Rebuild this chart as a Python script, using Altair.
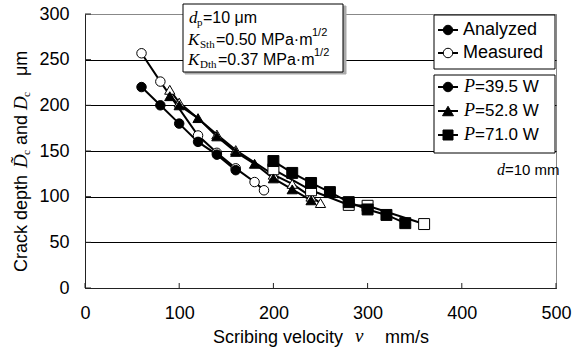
import altair as alt
import pandas as pd

# ---------------- data ----------------
v_a395 = [60, 80, 100, 120, 140, 160]
d_a395 = [220, 200, 180, 160, 146, 129]
v_m395 = [60, 80, 120, 140, 160, 180, 190]
d_m395 = [257, 226, 167, 148, 131, 116, 107]

v_a528 = [90, 100, 120, 140, 160, 180, 200, 220, 240]
d_a528 = [210, 200, 186, 166, 149, 136, 120, 108, 96]
v_m528 = [90, 100, 140, 160, 200, 220, 240, 250]
d_m528 = [217, 203, 168, 151, 124, 114, 100, 93]

v_a710 = [200, 220, 240, 260, 280, 300, 320, 340]
d_a710 = [139, 126, 115, 105, 94, 86, 80, 71]
v_m710 = [200, 240, 280, 300, 360]
d_m710 = [130, 107, 91, 90, 70]

x_ticks = [0, 100, 200, 300, 400, 500]
y_ticks = [0, 50, 100, 150, 200, 250, 300]

powers = ["P=39.5 W", "P=52.8 W", "P=71.0 W"]
power_nums = ["=39.5 W", "=52.8 W", "=71.0 W"]
kinds = ["Analyzed", "Measured"]
shapes = ["circle", "triangle-up", "square"]

SANS = "Liberation Sans, Arial, sans-serif"
SERIF = "Liberation Serif, Times New Roman, serif"

rows = []
for p, k, vs, ds in [
    (powers[0], "Analyzed", v_a395, d_a395),
    (powers[0], "Measured", v_m395, d_m395),
    (powers[1], "Analyzed", v_a528, d_a528),
    (powers[1], "Measured", v_m528, d_m528),
    (powers[2], "Analyzed", v_a710, d_a710),
    (powers[2], "Measured", v_m710, d_m710),
]:
    for v, d in zip(vs, ds):
        rows.append({"v": v, "D": d, "power": p, "kind": k, "grp": p + k})
df = pd.DataFrame(rows)
one = pd.DataFrame({"a": [0]})

xs = alt.Scale(domain=[0, 500], nice=False)
ys = alt.Scale(domain=[0, 300], nice=False)

xax = alt.Axis(values=x_ticks, grid=False, ticks=False, labelFontSize=18, labelFont=SANS,
               labelColor="black", labelPadding=16, domainColor="#222", labelFlush=False, title=None)
yax = alt.Axis(values=y_ticks, grid=True,
               gridColor={"condition": {"test": "datum.value == 300", "value": "#888888"}, "value": "black"},
               gridWidth=1, ticks=False, labelFontSize=18, labelFont=SANS, labelColor="black",
               labelPadding=16, domainColor="#222", title=None)

base = alt.Chart(df)

lines_m = base.transform_filter(alt.datum.kind == "Measured").mark_line(color="black", strokeWidth=2).encode(
    x=alt.X("v:Q", scale=xs, axis=xax), y=alt.Y("D:Q", scale=ys, axis=yax), detail="grp:N", order="v:Q")
lines_a = base.transform_filter(alt.datum.kind == "Analyzed").mark_line(color="black", strokeWidth=2).encode(
    x="v:Q", y="D:Q", detail="grp:N", order="v:Q")

def pts(kind):
    return base.transform_filter(alt.datum.kind == kind).mark_point(
        filled=True, stroke="black", strokeWidth=1, opacity=1).encode(
        x="v:Q", y="D:Q",
        shape=alt.Shape("power:N", scale=alt.Scale(domain=powers, range=shapes), legend=None),
        fill=alt.Fill("kind:N", scale=alt.Scale(domain=kinds, range=["black", "white"]), legend=None),
        size=alt.Size("power:N", scale=alt.Scale(domain=powers, range=[90, 120, 100]), legend=None),
    )

pts_m = pts("Measured")
pts_a = pts("Analyzed")

# inside tick marks
xt = alt.Chart(pd.DataFrame({"t": x_ticks})).mark_rule(color="#222").encode(
    x="t:Q", y=alt.value(274), y2=alt.value(269))
yt = alt.Chart(pd.DataFrame({"t": y_ticks})).mark_rule(color="#222").encode(
    y="t:Q", x=alt.value(0), x2=alt.value(6))


def txt(s, x, y, size=18, font=SANS, style="normal", align="left", baseline="middle", angle=0):
    return alt.Chart(one).mark_text(text=s, fontSize=size, font=font, fontStyle=style, align=align,
                                    baseline=baseline, angle=angle, color="black").encode(
        x=alt.value(x), y=alt.value(y))


def box(x1, x2, y1, y2, stroke="black", fill="white", sw=1):
    return alt.Chart(one).mark_rect(fill=fill, stroke=stroke, strokeWidth=sw).encode(
        x=alt.value(x1), x2=alt.value(x2), y=alt.value(y1), y2=alt.value(y2))


layers = [xt, yt, lines_m, lines_a, pts_m, pts_a]

# info box
layers += [box(100, 261, -8, 60, stroke="#aaa", fill="#aaa", sw=1), box(98, 258, -10, 58)]
layers += [
    txt("d", 104, 4, 17, SERIF, "italic"), txt("p", 112, 9, 11, SERIF), txt("=10 μm", 118, 4, 16),
    txt("K", 103, 26, 17, SERIF, "italic"), txt("Sth", 115, 31, 11, SERIF), txt("=0.50 MPa·m", 131, 26, 16),
    txt("1/2", 227, 19, 11),
    txt("K", 103, 46, 17, SERIF, "italic"), txt("Dth", 115, 51, 11, SERIF), txt("=0.37 MPa·m", 133, 46, 16),
    txt("1/2", 229, 39, 11),
]

# legend 1 (kind) and legend 2 (power)
layers += [box(349, 470, 1, 55), box(349, 470, 61, 139)]
leg_y1 = [16, 39]
for k, yy, fill in zip(kinds, leg_y1, ["black", "white"]):
    layers.append(alt.Chart(one).mark_rule(color="black", strokeWidth=2).encode(
        x=alt.value(353), x2=alt.value(373), y=alt.value(yy)))
    layers.append(alt.Chart(one).mark_point(shape="circle", filled=True, fill=fill, stroke="black",
                                            strokeWidth=1, size=90, opacity=1).encode(
        x=alt.value(363), y=alt.value(yy)))
    layers.append(txt(k, 378, yy, 18))

leg_y2 = [73, 97, 121]
for pn, shp, yy, sz in zip(power_nums, shapes, leg_y2, [90, 120, 100]):
    layers.append(alt.Chart(one).mark_rule(color="black", strokeWidth=2).encode(
        x=alt.value(353), x2=alt.value(373), y=alt.value(yy)))
    layers.append(alt.Chart(one).mark_point(shape=shp, filled=True, fill="black", stroke="black",
                                            strokeWidth=1, size=sz, opacity=1).encode(
        x=alt.value(363), y=alt.value(yy)))
    layers.append(txt("P", 379, yy, 18, SERIF, "italic"))
    layers.append(txt(pn, 390, yy, 17))

# d = 10 mm
layers += [txt("d", 412, 156, 16, SERIF, "italic"), txt("=10 mm", 420, 156, 15)]

# x axis title
layers += [txt("Scribing velocity", 128, 324, 18), txt("v", 270, 322, 19, SERIF, "italic"),
           txt("mm/s", 300, 324, 18)]

# y axis title (rotated pieces, reading bottom-to-top)
YX = -63
layers += [
    txt("Crack depth", YX, 258, 18, angle=270),
    txt("D\u0303", YX - 1, 154, 19, SERIF, "italic", angle=270),
    txt("c", YX + 5, 141, 11, SERIF, angle=270),
    txt("and", YX, 131, 18, angle=270),
    txt("D", YX - 1, 96, 19, SERIF, "italic", angle=270),
    txt("c", YX + 5, 83, 11, SERIF, angle=270),
    txt("μm", YX, 62, 18, angle=270),
]

chart = alt.layer(*layers).properties(
    width=471, height=274,
    autosize=alt.AutoSizeParams(type="none"),
    padding={"left": 85, "top": 14, "right": 18, "bottom": 68},
    background="white",
).configure_view(stroke="#888", strokeWidth=1)

chart.save("out.html", embed_options={"renderer": "svg", "actions": False})
